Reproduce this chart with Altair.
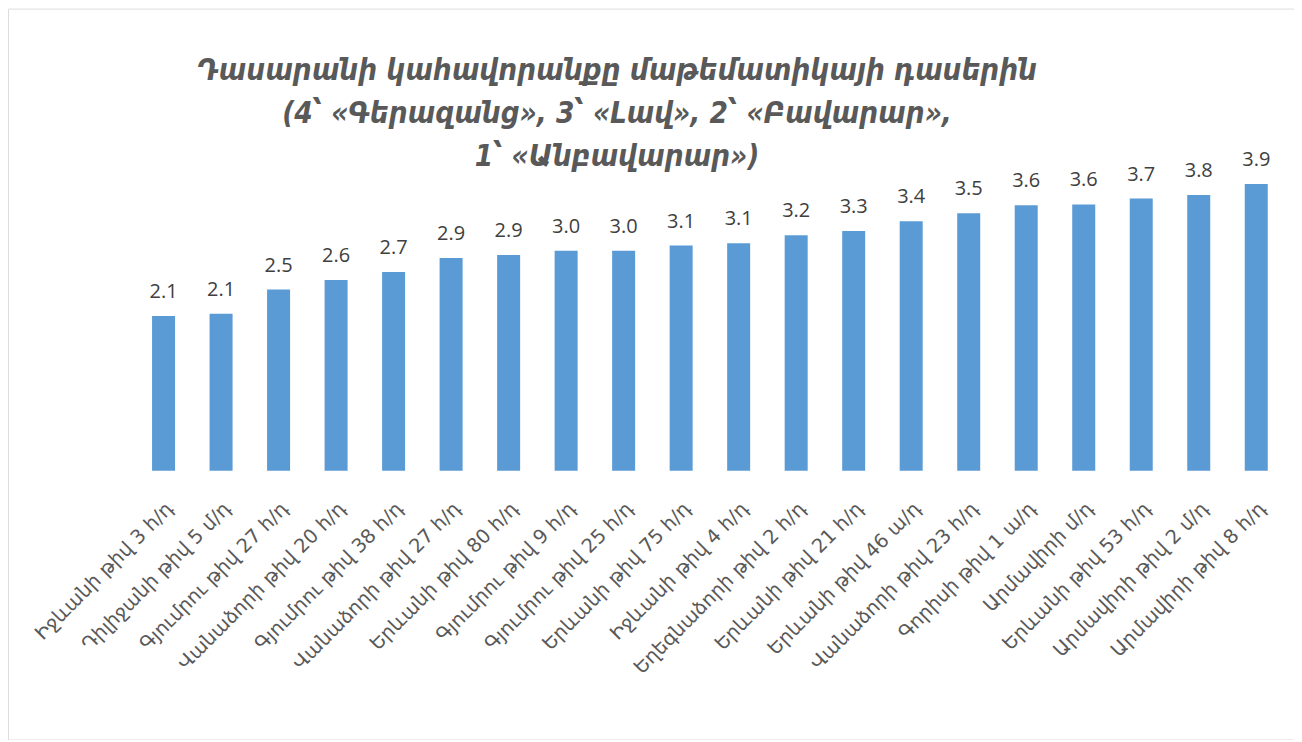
import altair as alt
import pandas as pd

schools = [
    "Իջևանի թիվ 3 հ/դ",
    "Դիլիջանի թիվ 5 մ/դ",
    "Գյումրու թիվ 27 հ/դ",
    "Վանաձորի թիվ 20 հ/դ",
    "Գյումրու թիվ 38 հ/դ",
    "Վանաձորի թիվ 27 հ/դ",
    "Երևանի թիվ 80 հ/դ",
    "Գյումրու թիվ 9 հ/դ",
    "Գյումրու թիվ 25 հ/դ",
    "Երևանի թիվ 75 հ/դ",
    "Իջևանի թիվ 4 հ/դ",
    "Եղեգնաձորի թիվ 2 հ/դ",
    "Երևանի թիվ 21 հ/դ",
    "Երևանի թիվ 46 ա/դ",
    "Վանաձորի թիվ 23 հ/դ",
    "Գորիսի թիվ 1 ա/դ",
    "Արմավիրի մ/դ",
    "Երևանի թիվ 53 հ/դ",
    "Արմավիրի թիվ 2 մ/դ",
    "Արմավիրի թիվ 8 հ/դ",
]
scores = [2.11, 2.14, 2.47, 2.60, 2.71, 2.90, 2.94, 3.00, 3.00, 3.07,
          3.10, 3.21, 3.27, 3.40, 3.51, 3.62, 3.63, 3.71, 3.76, 3.91]

title_lines = [
    "Դասարանի կահավորանքը մաթեմատիկայի դասերին",
    "(4՝ «Գերազանց», 3՝ «Լավ», 2՝ «Բավարար»,",
    "1՝ «Անբավարար»)",
]

df = pd.DataFrame({"school": schools, "score": scores})

x = alt.X(
    "school:N",
    sort=schools,
    scale=alt.Scale(range=[127, 1279], paddingInner=0.6, paddingOuter=0.3),
    axis=alt.Axis(
        title=None,
        labelAngle=-45,
        labelFontSize=19.5,
        labelFont="DejaVu Sans",
        labelColor="#595959",
        labelPadding=28,
        labelLimit=400,
        domain=False,
        ticks=False,
        offset=-269,
    ),
)
y = alt.Y(
    "score:Q",
    scale=alt.Scale(domain=[0, 4], range=[463, 169], nice=False, zero=True),
    axis=None,
)

bars = alt.Chart(df).mark_bar(color="#5B9BD5", clip=False).encode(x=x, y=y)
labels = alt.Chart(df).mark_text(
    baseline="alphabetic", dy=-18, fontSize=20, font="Open Sans", color="#404040", clip=False
).encode(x=x, y=y, text=alt.Text("score:Q", format=".1f"))

chart = (
    alt.layer(bars, labels)
    .properties(
        width=1288,
        height=732,
        autosize=alt.AutoSizeParams(type="none"),
        padding=0,
        title=alt.TitleParams(
            text=title_lines,
            anchor="middle",
            frame="group",
            baseline="top",
            offset=0,
            dx=-34,
            dy=164,
            font="DejaVu Sans Condensed",
            fontSize=29.5,
            fontStyle="italic",
            fontWeight="bold",
            color="#595959",
            lineHeight=43,
        ),
    )
    .configure_view(stroke="#D9D9D9", strokeWidth=1.5)
    .configure(background="white")
)

chart.save("out.html", embed_options={"renderer": "svg", "actions": False})
